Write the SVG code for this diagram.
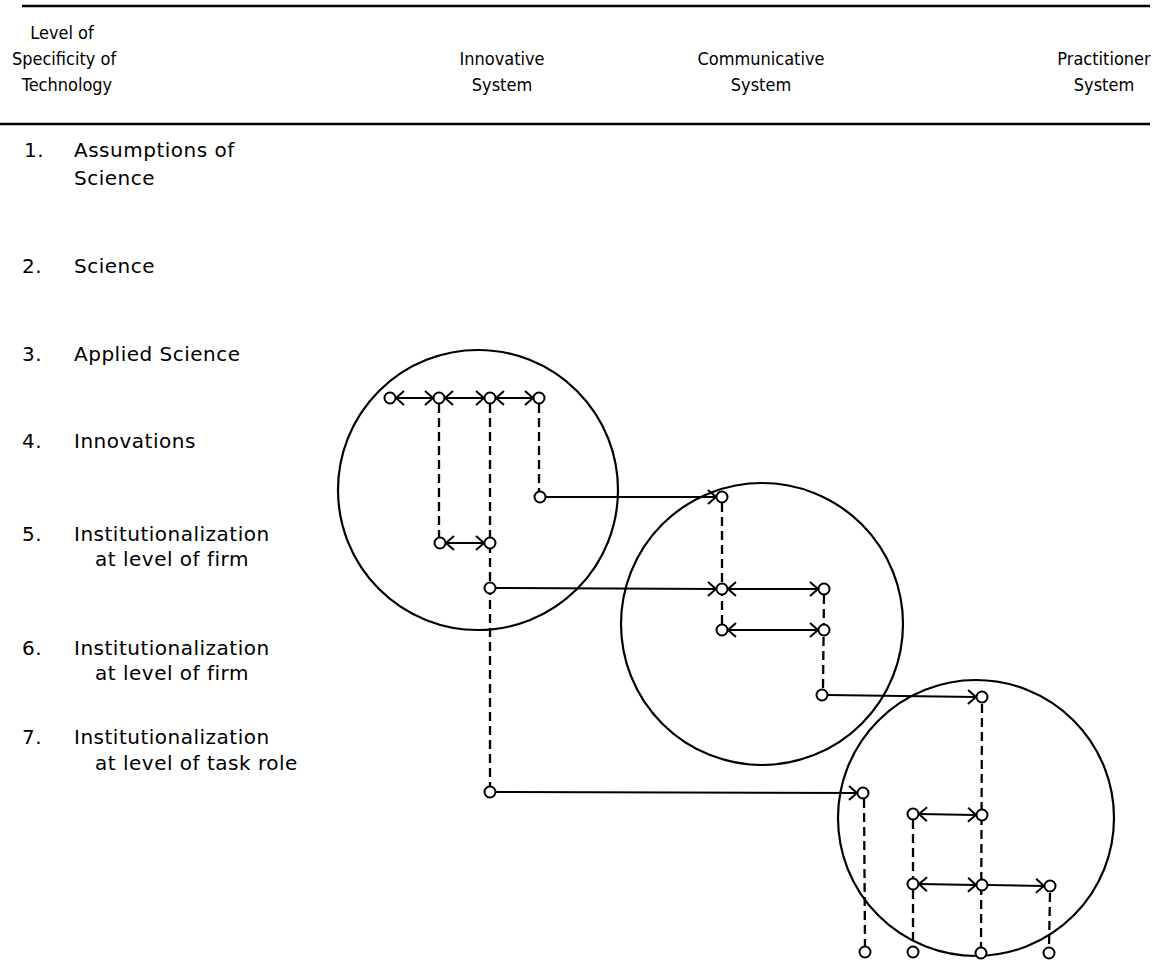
<svg xmlns="http://www.w3.org/2000/svg" width="1154" height="961" viewBox="0 0 1154 961">
<defs>
<style>
.t{font-family:"DejaVu Sans","Liberation Sans",sans-serif;font-size:20px;fill:#000;letter-spacing:0.5px}
.h{font-family:"DejaVu Sans Condensed","DejaVu Sans","Liberation Sans",sans-serif;font-size:18px;fill:#000}
.rule{stroke:#000;stroke-width:2.5}
.big{fill:none;stroke:#000;stroke-width:2.2}
.nd{fill:#fff;stroke:#000;stroke-width:2}
.ln{fill:none;stroke:#000;stroke-width:2}
.ds{fill:none;stroke:#000;stroke-width:2.3;stroke-dasharray:9 5}
</style>
<marker id="ah" viewBox="-10 -8 12 16" refX="0" refY="0" markerWidth="12" markerHeight="16" markerUnits="userSpaceOnUse" orient="auto-start-reverse">
<path d="M-8,-7 L0,0 L-8,7" fill="none" stroke="#000" stroke-width="2"/>
</marker>
</defs>
<rect width="1154" height="961" fill="#fff"/>
<g id="header">
<line class="rule" x1="22" y1="6" x2="1150" y2="6"/>
<line class="rule" x1="0" y1="124" x2="1150" y2="124"/>
<text class="h" text-anchor="middle" x="62" y="39">Level of</text>
<text class="h" text-anchor="middle" x="64" y="65">Specificity of</text>
<text class="h" text-anchor="middle" x="67" y="91">Technology</text>
<text class="h" text-anchor="middle" x="502" y="65">Innovative</text>
<text class="h" text-anchor="middle" x="502" y="91">System</text>
<text class="h" text-anchor="middle" x="761" y="65">Communicative</text>
<text class="h" text-anchor="middle" x="761" y="91">System</text>
<text class="h" text-anchor="middle" x="1104" y="65">Practitioner</text>
<text class="h" text-anchor="middle" x="1104" y="91">System</text>
</g>
<g id="levels">
<text class="t" x="24" y="157">1.</text>
<text class="t" x="74" y="157">Assumptions of</text>
<text class="t" x="74" y="185">Science</text>
<text class="t" x="22" y="273">2.</text>
<text class="t" x="74" y="273">Science</text>
<text class="t" x="22" y="361">3.</text>
<text class="t" x="74" y="361">Applied Science</text>
<text class="t" x="22" y="448">4.</text>
<text class="t" x="74" y="448">Innovations</text>
<text class="t" x="22" y="541">5.</text>
<text class="t" x="74" y="541">Institutionalization</text>
<text class="t" x="95" y="566">at level of firm</text>
<text class="t" x="22" y="655">6.</text>
<text class="t" x="74" y="655">Institutionalization</text>
<text class="t" x="95" y="680">at level of firm</text>
<text class="t" x="22" y="744">7.</text>
<text class="t" x="74" y="744">Institutionalization</text>
<text class="t" x="95" y="770">at level of task role</text>
</g>
<g id="systems">
<circle class="big" cx="478" cy="490" r="140"/>
<circle class="big" cx="762" cy="624" r="141"/>
<circle class="big" cx="976" cy="818" r="138"/>
</g>
<g id="connectors">
<line class="ds" x1="439" y1="404" x2="439" y2="537"/>
<line class="ds" x1="490" y1="404" x2="490" y2="786"/>
<line class="ds" x1="539" y1="404" x2="539" y2="491"/>
<line class="ds" x1="722" y1="503" x2="722" y2="624"/>
<line class="ds" x1="824" y1="595" x2="823" y2="688"/>
<line class="ds" x1="982" y1="704" x2="981" y2="948"/>
<line class="ds" x1="864" y1="799" x2="865" y2="946"/>
<line class="ds" x1="913" y1="820" x2="913" y2="946"/>
<line class="ds" x1="1050" y1="893" x2="1049" y2="948"/>
<line class="ln" marker-start="url(#ah)" marker-end="url(#ah)" x1="396" y1="398" x2="433" y2="398"/>
<line class="ln" marker-start="url(#ah)" marker-end="url(#ah)" x1="445" y1="398" x2="484" y2="398"/>
<line class="ln" marker-start="url(#ah)" marker-end="url(#ah)" x1="496" y1="398" x2="533" y2="398"/>
<line class="ln" marker-start="url(#ah)" marker-end="url(#ah)" x1="446" y1="543" x2="484" y2="543"/>
<line class="ln" marker-end="url(#ah)" x1="546" y1="497" x2="716" y2="497"/>
<line class="ln" marker-end="url(#ah)" x1="496" y1="588" x2="716" y2="589"/>
<line class="ln" marker-start="url(#ah)" marker-end="url(#ah)" x1="728" y1="589" x2="818" y2="589"/>
<line class="ln" marker-start="url(#ah)" marker-end="url(#ah)" x1="728" y1="630" x2="818" y2="630"/>
<line class="ln" marker-end="url(#ah)" x1="828" y1="695" x2="976" y2="697"/>
<line class="ln" marker-end="url(#ah)" x1="496" y1="792" x2="857" y2="793"/>
<line class="ln" marker-start="url(#ah)" marker-end="url(#ah)" x1="919" y1="814" x2="976" y2="815"/>
<line class="ln" marker-start="url(#ah)" marker-end="url(#ah)" x1="919" y1="884" x2="976" y2="885"/>
<line class="ln" marker-end="url(#ah)" x1="988" y1="885" x2="1044" y2="886"/>
</g>
<g id="innovative-nodes">
<circle class="nd" cx="390" cy="398" r="5.5"/>
<circle class="nd" cx="439" cy="398" r="5.5"/>
<circle class="nd" cx="490" cy="398" r="5.5"/>
<circle class="nd" cx="539" cy="398" r="5.5"/>
<circle class="nd" cx="440" cy="543" r="5.5"/>
<circle class="nd" cx="490" cy="543" r="5.5"/>
<circle class="nd" cx="540" cy="497" r="5.5"/>
<circle class="nd" cx="490" cy="588" r="5.5"/>
<circle class="nd" cx="490" cy="792" r="5.5"/>
</g>
<g id="communicative-nodes">
<circle class="nd" cx="722" cy="497" r="5.5"/>
<circle class="nd" cx="722" cy="589" r="5.5"/>
<circle class="nd" cx="824" cy="589" r="5.5"/>
<circle class="nd" cx="722" cy="630" r="5.5"/>
<circle class="nd" cx="824" cy="630" r="5.5"/>
<circle class="nd" cx="822" cy="695" r="5.5"/>
</g>
<g id="practitioner-nodes">
<circle class="nd" cx="982" cy="697" r="5.5"/>
<circle class="nd" cx="863" cy="793" r="5.5"/>
<circle class="nd" cx="913" cy="814" r="5.5"/>
<circle class="nd" cx="982" cy="815" r="5.5"/>
<circle class="nd" cx="913" cy="884" r="5.5"/>
<circle class="nd" cx="982" cy="885" r="5.5"/>
<circle class="nd" cx="1050" cy="886" r="5.5"/>
<circle class="nd" cx="865" cy="952" r="5.5"/>
<circle class="nd" cx="913" cy="952" r="5.5"/>
<circle class="nd" cx="981" cy="953" r="5.5"/>
<circle class="nd" cx="1049" cy="953" r="5.5"/>
</g>
</svg>
